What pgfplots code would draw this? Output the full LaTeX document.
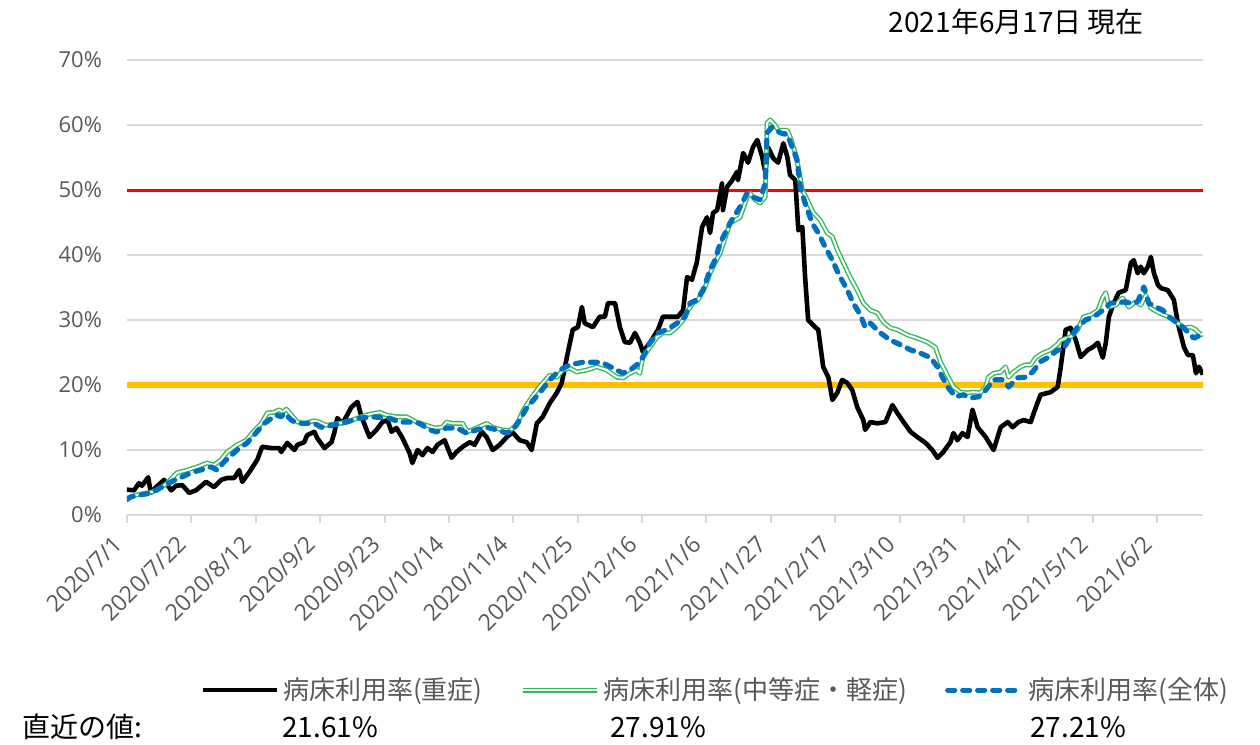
\documentclass[border=0pt]{standalone}
\usepackage{fontspec}
\setmainfont{Open Sans}
\newfontfamily\jp{Noto Sans CJK JP}
\usepackage{pgfplots}
\pgfplotsset{compat=1.18}
\definecolor{txtgray}{RGB}{89,89,89}
\definecolor{gridgray}{RGB}{217,217,217}
\definecolor{modgreen}{RGB}{50,185,90}
\definecolor{allblue}{RGB}{0,112,192}
\definecolor{thred}{RGB}{255,0,0}
\definecolor{thorange}{RGB}{255,192,0}

\begin{document}
\begin{tikzpicture}
\useasboundingbox (-63.5pt,-115pt) rectangle (566.5pt,257.5pt);
\begin{axis}[
  scale only axis, width=538pt, height=227.5pt,
  xmin=0, xmax=351, ymin=0, ymax=70,
  axis x line*=bottom, axis y line*=left,
  y axis line style={draw=none},
  x axis line style={gridgray, line width=1pt},
  xtick={0,21,...,336},
  xticklabels={2020/7/1,2020/7/22,2020/8/12,2020/9/2,2020/9/23,2020/10/14,2020/11/4,2020/11/25,2020/12/16,2021/1/6,2021/1/27,2021/2/17,2021/3/10,2021/3/31,2021/4/21,2021/5/12,2021/6/2},
  ytick={0,10,...,70},
  yticklabel={\pgfmathprintnumber{\tick}\%},
  /pgf/number format/assume math mode=true,
  tick label style={text=txtgray},
  x tick label style={font=\fontsize{11.5}{13}\selectfont, xshift=-2pt, yshift=-6pt, rotate=45, anchor=east},
  y tick label style={font=\fontsize{11}{13}\selectfont, xshift=-5pt},
  xtick style={gridgray, line width=1pt},
  ytick style={draw=none},
  tick align=outside, major tick length=4pt,
  ymajorgrids, major grid style={gridgray, line width=1pt},
  legend columns=3,
  legend style={draw=none, fill=none, inner sep=0pt,
    at={(axis description cs:0.068,-0.385)}, anchor=west,
    font=\jp\fontsize{13}{15}\selectfont, text=txtgray,
    /tikz/every even column/.append style={column sep=17pt}},
  legend image code/.code={\draw[#1] (0pt,0pt) -- (37pt,0pt);},
  line join=round,
]
% thresholds
\addplot[thorange, line width=3pt, forget plot] coordinates {(0,20) (351,20)};
\addplot[thred, line width=1.5pt, forget plot] coordinates {(0,50) (351,50)};

% 重症
\addplot[black, line width=2.3pt] coordinates {
(0,3.9) (2.3,3.8) (3.9,4.9) (4.9,4.5) (6.9,5.8) (7.8,3.4) (9.5,4.3) (12.1,5.4)
(14.4,3.8) (16.0,4.5) (18.0,4.6) (20.3,3.4) (22.5,3.8) (25.8,5.1) (28.4,4.3)
(30.7,5.4) (32.7,5.7) (35.0,5.7) (36.6,6.9) (37.6,5.1) (39.9,6.6) (42.5,8.5)
(44.1,10.5) (47.1,10.3) (49.7,10.3) (50.3,9.7) (52.3,11.1) (54.6,10.0) (55.6,10.8)
(57.8,11.2) (58.8,12.3) (61.1,12.8) (62.1,11.8) (64.4,10.3) (66.7,11.2) (67.6,12.6)
(68.6,14.9) (70.3,14.1) (71.5,15.1) (73.2,16.6) (75.2,17.4) (76.5,15.1) (79.1,12.0)
(81.4,13.1) (83.3,14.3) (85.0,14.6) (86.3,12.8) (87.9,13.4) (89.9,11.8) (92.2,9.5)
(93.1,8.0) (94.8,10.0) (96.4,9.2) (98.0,10.3) (99.7,9.7) (101.3,10.8) (103.6,11.5)
(105.9,8.8) (107.5,9.7) (109.5,10.5) (111.8,11.2) (113.4,10.8) (115.7,12.8)
(117.3,12.0) (119.3,10.0) (121.6,10.8) (123.9,12.0) (125.8,12.7) (128.1,11.5)
(130.4,11.2) (132.0,10.0) (133.7,14.1) (135.6,15.1) (137.9,17.2) (140.2,18.8)
(141.8,20.3) (143.5,24.3) (145.4,28.5) (147.1,28.9) (148.4,32.0) (149.3,29.5)
(152.0,28.9) (154.2,30.5) (155.9,30.5) (156.9,32.6) (159.2,32.6) (160.8,28.9)
(162.4,26.6) (164.1,26.5) (165.7,28.0) (167.3,26.5) (168.3,25.1) (170.6,26.5)
(173.2,28.5) (174.8,30.5) (177.1,30.5) (179.7,30.5) (181.4,31.5) (182.7,36.6)
(184.3,36.2) (185.9,38.9) (187.6,44.3) (189.2,45.8) (190.2,43.4) (191.2,46.5)
(192.5,46.9) (194.1,51.0) (194.4,46.9) (195.8,50.5) (197.4,51.5) (199.0,52.8)
(199.3,51.5) (201.0,55.7) (202.6,54.2) (204.2,56.6) (205.6,57.7) (207.2,55.1)
(208.2,52.8) (209.2,56.5) (210.8,54.9) (212.4,54.2) (214.1,57.2) (215.4,55.1)
(216.3,52.3) (218.0,51.5) (219.0,43.8) (220.3,44.3) (221.2,36.6) (222.2,30.0)
(224.5,28.9) (225.5,28.5) (227.1,22.8) (228.8,21.2) (230.1,17.7) (231.7,18.8)
(233.3,20.8) (235.0,20.3) (236.6,19.2) (238.2,16.6) (240.2,14.6) (240.8,13.1)
(242.5,14.3) (244.8,14.1) (247.4,14.3) (249.7,16.9) (251.3,15.7) (253.3,14.3)
(255.6,12.8) (257.8,12.0) (260.5,11.1) (262.7,10.0) (264.4,8.8) (266.3,9.7)
(268.6,11.2) (269.6,12.6) (270.9,11.5) (272.5,12.6) (274.2,12.0) (275.8,16.2)
(277.5,13.5) (280.1,12.0) (282.7,10.0) (285.0,13.5) (287.3,14.3) (288.9,13.5)
(290.8,14.3) (292.5,14.6) (294.8,14.3) (295.8,15.7) (298.0,18.5) (301.3,18.9)
(303.6,19.7) (304.6,22.8) (306.2,28.5) (307.8,28.8) (309.5,26.9) (311.1,24.3)
(313.4,25.4) (315.0,25.8) (316.7,26.5) (318.3,24.2) (319.3,26.5) (320.3,30.5)
(321.9,32.6) (323.5,34.2) (325.8,34.6) (327.5,38.8) (328.4,39.2) (329.7,37.2)
(330.7,38.2) (331.7,37.2) (333.0,38.2) (334.0,39.7) (335.0,37.2) (336.3,35.4)
(337.3,34.9) (339.5,34.6) (341.5,33.1) (342.8,29.5) (344.8,25.8) (346.1,24.6)
(347.7,24.6) (348.7,21.8) (349.7,22.8) (351.0,21.6)
};
\addlegendentry{病床利用率(重症)}

% 中等症・軽症
\addplot[modgreen, line width=0.7pt, double=white, double distance=1pt] coordinates {
(0,2.6) (3.3,3.1) (7.8,3.5) (9.8,3.8) (13.1,4.9) (16.3,6.5) (19.6,6.9) (22.9,7.4)
(26.1,8.0) (28.4,7.7) (30.7,8.5) (32.7,9.7) (35.9,10.8) (38.9,11.5) (40.8,12.6)
(43.8,14.1) (45.8,15.7) (48.0,15.8) (49.7,16.2) (50.7,15.8) (52.0,16.3) (53.6,15.4)
(55.6,14.3) (57.8,14.1) (61.1,14.5) (62.7,14.3) (65.0,13.8) (69.3,14.1) (73.5,14.6)
(78.1,15.4) (82.4,15.8) (84.6,15.4) (87.9,15.1) (91.2,15.1) (94.4,14.3) (97.7,13.8)
(100.3,13.4) (102.9,13.5) (104.2,14.3) (106.2,14.1) (109.5,14.1) (111.1,12.8)
(114.1,13.4) (117.3,14.1) (119.3,13.5) (122.2,13.1) (124.8,13.0) (127.1,13.8)
(129.1,16.0) (131.4,17.7) (133.7,19.2) (135.6,20.3) (137.9,21.5) (140.2,21.2)
(142.2,22.3) (144.4,22.6) (146.7,22.0) (150.0,22.3) (153.3,22.8) (156.5,22.3)
(159.8,21.2) (161.8,21.1) (164.1,21.8) (166.3,22.3) (167.3,21.8) (168.3,24.3)
(170.6,25.8) (172.9,27.4) (174.8,28.0) (177.1,28.0) (179.4,28.9) (181.4,30.0)
(183.0,31.5) (184.6,32.6) (186.3,33.1) (188.6,35.1) (190.2,37.2) (191.8,38.8)
(193.5,40.3) (196.7,44.9) (200.0,45.8) (202.3,48.9) (203.3,49.5) (204.9,48.5)
(206.5,48.0) (208.2,48.9) (208.8,60.3) (209.8,60.8) (211.4,60.0) (212.4,59.2)
(215.4,59.2) (216.3,58.2) (218.0,55.7) (219.0,53.5) (220.3,50.0) (221.9,48.5)
(223.9,46.5) (226.1,45.4) (228.4,43.4) (230.1,42.8) (231.7,40.8) (233.7,38.8)
(235.9,36.6) (238.2,34.6) (240.2,32.6) (242.5,31.5) (244.8,31.1) (246.7,29.7)
(249.0,28.8) (251.3,28.5) (254.6,27.7) (257.8,27.2) (261.1,26.6) (263.7,25.8)
(265.4,23.5) (267.6,21.5) (269.6,19.7) (271.9,18.9) (274.2,18.8) (276.1,18.9)
(278.4,18.8) (280.1,19.7) (281.0,21.2) (282.7,21.8) (285.0,22.0) (286.6,22.8)
(287.6,21.2) (289.2,22.0) (291.5,22.8) (293.1,23.1) (294.8,23.1) (296.4,24.2)
(298.7,24.9) (301.3,25.4) (303.6,26.3) (304.6,26.9) (307.8,27.4) (310.1,28.5)
(312.1,30.5) (314.4,30.8) (316.7,31.5) (318.3,33.5) (319.3,34.2) (320.3,32.0)
(322.5,32.3) (324.8,33.4) (326.8,32.0) (329.1,32.8) (330.7,32.3) (332.4,33.8)
(334.0,31.8) (336.3,31.2) (338.2,30.8) (340.5,30.3) (342.8,29.5) (344.8,28.8)
(347.1,28.9) (348.7,28.5) (350.3,27.7) (351.0,27.9)
};
\addlegendentry{病床利用率(中等症・軽症)}

% 全体
\addplot[allblue, line width=2.6pt, line cap=round, dash pattern=on 3.5pt off 4pt] coordinates {
(0,2.4) (1.3,2.8) (7.8,3.4) (14.4,5.1) (20.9,6.5) (27.5,7.4) (29.4,6.9) (31.7,8.2)
(35.9,10.0) (39.2,11.1) (44.8,14.1) (48.7,15.4) (50.3,15.1) (51.3,15.7) (53.6,14.6)
(55.6,14.1) (61.1,14.1) (63.4,13.5) (67.0,13.8) (71.6,14.3) (75.8,14.9) (80.1,15.1)
(85.6,14.9) (88.9,14.3) (92.2,14.3) (95.4,14.1) (98.7,13.1) (101.0,12.8) (104.2,13.4)
(107.5,13.4) (110.8,12.6) (114.1,13.1) (117.3,13.5) (120.6,13.1) (123.9,12.6)
(125.8,13.1) (128.1,14.6) (130.4,16.5) (134.6,18.8) (137.9,20.8) (141.2,22.3)
(144.4,23.1) (148.7,23.5) (153.3,23.5) (155.2,23.4) (158.5,22.6) (161.8,21.8)
(164.1,22.3) (166.3,23.1) (168.3,24.3) (170.6,26.5) (173.2,28.0) (176.1,28.5)
(179.4,29.5) (182.0,30.5) (183.7,32.6) (185.9,33.1) (187.9,34.6) (190.2,37.7)
(191.8,39.2) (193.5,41.8) (196.7,44.9) (200.0,47.4) (202.3,49.5) (204.2,48.9)
(206.5,48.5) (208.2,51.0) (208.8,58.8) (210.5,59.7) (213.1,58.8) (215.4,58.5)
(217.0,56.6) (218.6,54.6) (219.6,50.5) (221.2,48.0) (223.5,44.9) (225.5,43.4)
(227.8,41.2) (230.1,39.2) (232.0,37.2) (235.0,34.6) (236.9,32.6) (239.2,30.8)
(240.8,28.9) (242.5,29.5) (245.8,28.0) (249.0,26.9) (252.3,26.2) (255.6,25.4)
(258.8,24.9) (262.1,24.2) (264.4,22.8) (266.0,21.2) (268.0,19.5) (270.3,18.2)
(272.9,18.5) (275.2,18.0) (277.8,18.2) (280.1,19.2) (282.7,20.8) (285.6,20.8)
(287.6,19.7) (290.5,21.1) (293.1,21.2) (295.4,22.0) (298.0,23.6) (300.7,24.3)
(303.6,25.4) (305.2,25.4) (307.8,27.4) (310.1,28.9) (312.7,30.0) (315.4,30.5)
(318.3,31.5) (320.9,32.6) (323.2,32.6) (325.2,32.8) (327.5,32.6) (329.7,32.8)
(331.7,35.1) (333.3,32.6) (335.6,32.0) (337.9,31.5) (339.9,30.5) (342.2,29.7)
(344.4,28.9) (346.4,28.0) (348.0,27.2) (350.3,27.7) (351.0,27.2)
};
\addlegendentry{病床利用率(全体)}
\end{axis}
\node[anchor=east, font=\jp\fontsize{14}{16}\selectfont] at (512pt,246.5pt) {2021年6月17日 現在};
\node[anchor=west, inner sep=0pt, font=\jp\fontsize{14}{16}\selectfont] at (-52.5pt,-106pt) {直近の値:};
\node[anchor=west, inner sep=0pt, font=\jp\fontsize{14}{16}\selectfont] at (77.5pt,-106pt) {21.61\%};
\node[anchor=west, inner sep=0pt, font=\jp\fontsize{14}{16}\selectfont] at (241.5pt,-106pt) {27.91\%};
\node[anchor=west, inner sep=0pt, font=\jp\fontsize{14}{16}\selectfont] at (451.5pt,-106pt) {27.21\%};
\end{tikzpicture}
\end{document}
